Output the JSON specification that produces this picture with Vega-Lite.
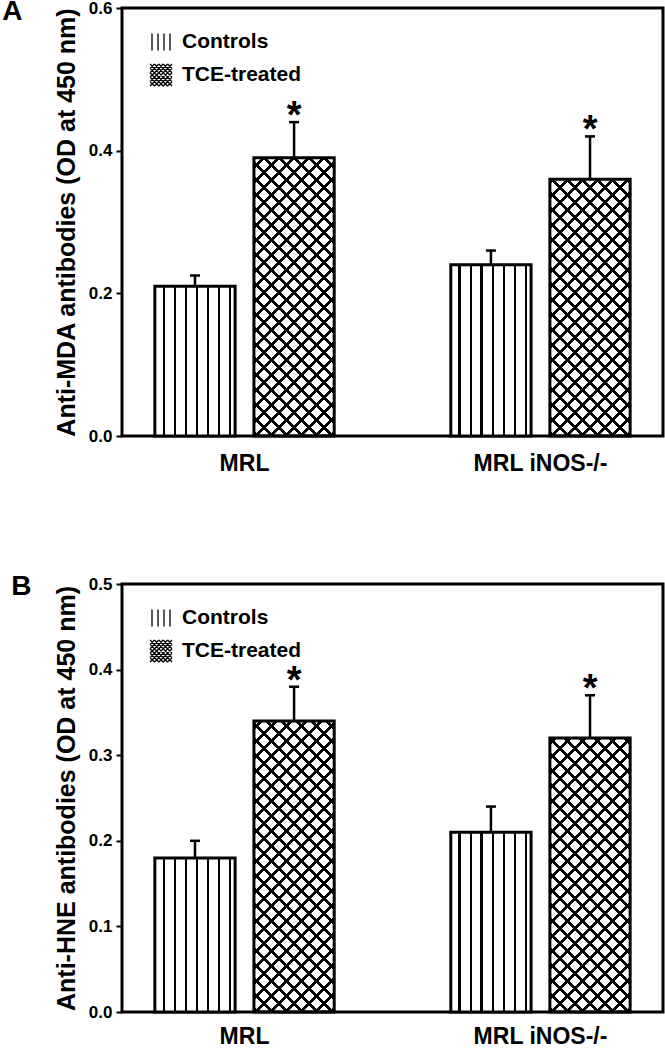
{
  "$schema": "https://vega.github.io/schema/vega-lite/v6.json",
  "background": "white",
  "padding": {"left": 0, "top": -4, "right": 0, "bottom": 0},
  "datasets": {
    "mda": [
      {"genotype": "MRL", "group": "Controls", "mean": 0.21, "upper": 0.225},
      {"genotype": "MRL", "group": "TCE-treated", "mean": 0.39, "upper": 0.44},
      {"genotype": "MRL iNOS-/-", "group": "Controls", "mean": 0.24, "upper": 0.26},
      {"genotype": "MRL iNOS-/-", "group": "TCE-treated", "mean": 0.36, "upper": 0.42}
    ],
    "hne": [
      {"genotype": "MRL", "group": "Controls", "mean": 0.18, "upper": 0.2},
      {"genotype": "MRL", "group": "TCE-treated", "mean": 0.34, "upper": 0.38},
      {"genotype": "MRL iNOS-/-", "group": "Controls", "mean": 0.21, "upper": 0.24},
      {"genotype": "MRL iNOS-/-", "group": "TCE-treated", "mean": 0.32, "upper": 0.37}
    ]
  },
  "spacing": 94,
  "resolve": {
    "scale": {"x": "independent", "y": "independent", "xOffset": "independent", "shape": "independent"},
    "legend": {"shape": "independent"}
  },
  "vconcat": [
    {
      "data": {"name": "mda"},
      "width": 541,
      "height": 428,
      "title": {"text": "A", "anchor": "start", "frame": "bounds", "fontSize": 28, "fontWeight": "bold", "color": "black", "dx": -52, "dy": 31},
      "encoding": {
        "x": {"field": "genotype", "type": "nominal", "sort": ["MRL", "MRL iNOS-/-"], "scale": {"paddingInner": 0.394, "paddingOuter": 0.111},
          "axis": {"title": null, "labelAngle": 0, "ticks": false, "domain": false, "labelFontSize": 23, "labelFontWeight": "bold", "labelColor": "black", "labelPadding": 16}},
        "xOffset": {"field": "group", "type": "nominal", "sort": ["Controls", "TCE-treated"], "scale": {"paddingInner": 0.19, "paddingOuter": 0}},
        "y": {"field": "mean", "type": "quantitative", "scale": {"domain": [0, 0.6], "nice": false},
          "axis": {"title": "Anti-MDA antibodies (OD at 450 nm)", "values": [0, 0.2, 0.4, 0.6], "format": ".1f", "grid": false, "domain": false, "tickSize": 6, "tickWidth": 2, "tickColor": "black", "labelFontSize": 17, "labelFontWeight": "bold", "labelColor": "black", "labelPadding": 4, "titleFontSize": 25, "titleFontWeight": "bold", "titleColor": "black", "titlePadding": 9}}
      },
      "layer": [
        {"transform": [{"filter": "datum.group === 'TCE-treated'"}], "mark": {"type": "bar", "strokeWidth": 0, "fill": {"gradient": "linear", "x1": 0, "y1": 0, "x2": 0.29416, "y2": 1.17648, "stops": [
          {"offset": 0, "color": "rgba(0,0,0,0)"},
          {"offset": 0.0142, "color": "rgba(0,0,0,0)"}, {"offset": 0.0142, "color": "#000"}, {"offset": 0.0232, "color": "#000"}, {"offset": 0.0232, "color": "rgba(0,0,0,0)"},
          {"offset": 0.0516, "color": "rgba(0,0,0,0)"}, {"offset": 0.0516, "color": "#000"}, {"offset": 0.0606, "color": "#000"}, {"offset": 0.0606, "color": "rgba(0,0,0,0)"},
          {"offset": 0.0890, "color": "rgba(0,0,0,0)"}, {"offset": 0.0890, "color": "#000"}, {"offset": 0.0980, "color": "#000"}, {"offset": 0.0980, "color": "rgba(0,0,0,0)"},
          {"offset": 0.1263, "color": "rgba(0,0,0,0)"}, {"offset": 0.1263, "color": "#000"}, {"offset": 0.1353, "color": "#000"}, {"offset": 0.1353, "color": "rgba(0,0,0,0)"},
          {"offset": 0.1637, "color": "rgba(0,0,0,0)"}, {"offset": 0.1637, "color": "#000"}, {"offset": 0.1727, "color": "#000"}, {"offset": 0.1727, "color": "rgba(0,0,0,0)"},
          {"offset": 0.2011, "color": "rgba(0,0,0,0)"}, {"offset": 0.2011, "color": "#000"}, {"offset": 0.2101, "color": "#000"}, {"offset": 0.2101, "color": "rgba(0,0,0,0)"},
          {"offset": 0.2385, "color": "rgba(0,0,0,0)"}, {"offset": 0.2385, "color": "#000"}, {"offset": 0.2475, "color": "#000"}, {"offset": 0.2475, "color": "rgba(0,0,0,0)"},
          {"offset": 0.2759, "color": "rgba(0,0,0,0)"}, {"offset": 0.2759, "color": "#000"}, {"offset": 0.2849, "color": "#000"}, {"offset": 0.2849, "color": "rgba(0,0,0,0)"},
          {"offset": 0.3133, "color": "rgba(0,0,0,0)"}, {"offset": 0.3133, "color": "#000"}, {"offset": 0.3222, "color": "#000"}, {"offset": 0.3222, "color": "rgba(0,0,0,0)"},
          {"offset": 0.3506, "color": "rgba(0,0,0,0)"}, {"offset": 0.3506, "color": "#000"}, {"offset": 0.3596, "color": "#000"}, {"offset": 0.3596, "color": "rgba(0,0,0,0)"},
          {"offset": 0.3880, "color": "rgba(0,0,0,0)"}, {"offset": 0.3880, "color": "#000"}, {"offset": 0.3970, "color": "#000"}, {"offset": 0.3970, "color": "rgba(0,0,0,0)"},
          {"offset": 0.4254, "color": "rgba(0,0,0,0)"}, {"offset": 0.4254, "color": "#000"}, {"offset": 0.4344, "color": "#000"}, {"offset": 0.4344, "color": "rgba(0,0,0,0)"},
          {"offset": 0.4628, "color": "rgba(0,0,0,0)"}, {"offset": 0.4628, "color": "#000"}, {"offset": 0.4718, "color": "#000"}, {"offset": 0.4718, "color": "rgba(0,0,0,0)"},
          {"offset": 0.5002, "color": "rgba(0,0,0,0)"}, {"offset": 0.5002, "color": "#000"}, {"offset": 0.5091, "color": "#000"}, {"offset": 0.5091, "color": "rgba(0,0,0,0)"},
          {"offset": 0.5376, "color": "rgba(0,0,0,0)"}, {"offset": 0.5376, "color": "#000"}, {"offset": 0.5465, "color": "#000"}, {"offset": 0.5465, "color": "rgba(0,0,0,0)"},
          {"offset": 0.5749, "color": "rgba(0,0,0,0)"}, {"offset": 0.5749, "color": "#000"}, {"offset": 0.5839, "color": "#000"}, {"offset": 0.5839, "color": "rgba(0,0,0,0)"},
          {"offset": 0.6123, "color": "rgba(0,0,0,0)"}, {"offset": 0.6123, "color": "#000"}, {"offset": 0.6213, "color": "#000"}, {"offset": 0.6213, "color": "rgba(0,0,0,0)"},
          {"offset": 0.6497, "color": "rgba(0,0,0,0)"}, {"offset": 0.6497, "color": "#000"}, {"offset": 0.6587, "color": "#000"}, {"offset": 0.6587, "color": "rgba(0,0,0,0)"},
          {"offset": 0.6871, "color": "rgba(0,0,0,0)"}, {"offset": 0.6871, "color": "#000"}, {"offset": 0.6961, "color": "#000"}, {"offset": 0.6961, "color": "rgba(0,0,0,0)"},
          {"offset": 0.7245, "color": "rgba(0,0,0,0)"}, {"offset": 0.7245, "color": "#000"}, {"offset": 0.7335, "color": "#000"}, {"offset": 0.7335, "color": "rgba(0,0,0,0)"},
          {"offset": 0.7619, "color": "rgba(0,0,0,0)"}, {"offset": 0.7619, "color": "#000"}, {"offset": 0.7708, "color": "#000"}, {"offset": 0.7708, "color": "rgba(0,0,0,0)"},
          {"offset": 0.7992, "color": "rgba(0,0,0,0)"}, {"offset": 0.7992, "color": "#000"}, {"offset": 0.8082, "color": "#000"}, {"offset": 0.8082, "color": "rgba(0,0,0,0)"},
          {"offset": 0.8366, "color": "rgba(0,0,0,0)"}, {"offset": 0.8366, "color": "#000"}, {"offset": 0.8456, "color": "#000"}, {"offset": 0.8456, "color": "rgba(0,0,0,0)"},
          {"offset": 0.8740, "color": "rgba(0,0,0,0)"}, {"offset": 0.8740, "color": "#000"}, {"offset": 0.8830, "color": "#000"}, {"offset": 0.8830, "color": "rgba(0,0,0,0)"},
          {"offset": 0.9114, "color": "rgba(0,0,0,0)"}, {"offset": 0.9114, "color": "#000"}, {"offset": 0.9204, "color": "#000"}, {"offset": 0.9204, "color": "rgba(0,0,0,0)"},
          {"offset": 0.9488, "color": "rgba(0,0,0,0)"}, {"offset": 0.9488, "color": "#000"}, {"offset": 0.9578, "color": "#000"}, {"offset": 0.9578, "color": "rgba(0,0,0,0)"},
          {"offset": 0.9862, "color": "rgba(0,0,0,0)"}, {"offset": 0.9862, "color": "#000"}, {"offset": 0.9951, "color": "#000"}, {"offset": 0.9951, "color": "rgba(0,0,0,0)"},
          {"offset": 1, "color": "rgba(0,0,0,0)"}]}},
          "encoding": {"y": {"datum": 0, "type": "quantitative"}, "y2": {"datum": 0.45}}},
        {"transform": [{"filter": "datum.group === 'TCE-treated'"}], "mark": {"type": "bar", "strokeWidth": 0, "fill": {"gradient": "linear", "x1": 1, "y1": 0, "x2": 0.70584, "y2": 1.17648, "stops": [
          {"offset": 0, "color": "rgba(0,0,0,0)"},
          {"offset": 0.0142, "color": "rgba(0,0,0,0)"}, {"offset": 0.0142, "color": "#000"}, {"offset": 0.0232, "color": "#000"}, {"offset": 0.0232, "color": "rgba(0,0,0,0)"},
          {"offset": 0.0516, "color": "rgba(0,0,0,0)"}, {"offset": 0.0516, "color": "#000"}, {"offset": 0.0606, "color": "#000"}, {"offset": 0.0606, "color": "rgba(0,0,0,0)"},
          {"offset": 0.0890, "color": "rgba(0,0,0,0)"}, {"offset": 0.0890, "color": "#000"}, {"offset": 0.0980, "color": "#000"}, {"offset": 0.0980, "color": "rgba(0,0,0,0)"},
          {"offset": 0.1263, "color": "rgba(0,0,0,0)"}, {"offset": 0.1263, "color": "#000"}, {"offset": 0.1353, "color": "#000"}, {"offset": 0.1353, "color": "rgba(0,0,0,0)"},
          {"offset": 0.1637, "color": "rgba(0,0,0,0)"}, {"offset": 0.1637, "color": "#000"}, {"offset": 0.1727, "color": "#000"}, {"offset": 0.1727, "color": "rgba(0,0,0,0)"},
          {"offset": 0.2011, "color": "rgba(0,0,0,0)"}, {"offset": 0.2011, "color": "#000"}, {"offset": 0.2101, "color": "#000"}, {"offset": 0.2101, "color": "rgba(0,0,0,0)"},
          {"offset": 0.2385, "color": "rgba(0,0,0,0)"}, {"offset": 0.2385, "color": "#000"}, {"offset": 0.2475, "color": "#000"}, {"offset": 0.2475, "color": "rgba(0,0,0,0)"},
          {"offset": 0.2759, "color": "rgba(0,0,0,0)"}, {"offset": 0.2759, "color": "#000"}, {"offset": 0.2849, "color": "#000"}, {"offset": 0.2849, "color": "rgba(0,0,0,0)"},
          {"offset": 0.3133, "color": "rgba(0,0,0,0)"}, {"offset": 0.3133, "color": "#000"}, {"offset": 0.3222, "color": "#000"}, {"offset": 0.3222, "color": "rgba(0,0,0,0)"},
          {"offset": 0.3506, "color": "rgba(0,0,0,0)"}, {"offset": 0.3506, "color": "#000"}, {"offset": 0.3596, "color": "#000"}, {"offset": 0.3596, "color": "rgba(0,0,0,0)"},
          {"offset": 0.3880, "color": "rgba(0,0,0,0)"}, {"offset": 0.3880, "color": "#000"}, {"offset": 0.3970, "color": "#000"}, {"offset": 0.3970, "color": "rgba(0,0,0,0)"},
          {"offset": 0.4254, "color": "rgba(0,0,0,0)"}, {"offset": 0.4254, "color": "#000"}, {"offset": 0.4344, "color": "#000"}, {"offset": 0.4344, "color": "rgba(0,0,0,0)"},
          {"offset": 0.4628, "color": "rgba(0,0,0,0)"}, {"offset": 0.4628, "color": "#000"}, {"offset": 0.4718, "color": "#000"}, {"offset": 0.4718, "color": "rgba(0,0,0,0)"},
          {"offset": 0.5002, "color": "rgba(0,0,0,0)"}, {"offset": 0.5002, "color": "#000"}, {"offset": 0.5091, "color": "#000"}, {"offset": 0.5091, "color": "rgba(0,0,0,0)"},
          {"offset": 0.5376, "color": "rgba(0,0,0,0)"}, {"offset": 0.5376, "color": "#000"}, {"offset": 0.5465, "color": "#000"}, {"offset": 0.5465, "color": "rgba(0,0,0,0)"},
          {"offset": 0.5749, "color": "rgba(0,0,0,0)"}, {"offset": 0.5749, "color": "#000"}, {"offset": 0.5839, "color": "#000"}, {"offset": 0.5839, "color": "rgba(0,0,0,0)"},
          {"offset": 0.6123, "color": "rgba(0,0,0,0)"}, {"offset": 0.6123, "color": "#000"}, {"offset": 0.6213, "color": "#000"}, {"offset": 0.6213, "color": "rgba(0,0,0,0)"},
          {"offset": 0.6497, "color": "rgba(0,0,0,0)"}, {"offset": 0.6497, "color": "#000"}, {"offset": 0.6587, "color": "#000"}, {"offset": 0.6587, "color": "rgba(0,0,0,0)"},
          {"offset": 0.6871, "color": "rgba(0,0,0,0)"}, {"offset": 0.6871, "color": "#000"}, {"offset": 0.6961, "color": "#000"}, {"offset": 0.6961, "color": "rgba(0,0,0,0)"},
          {"offset": 0.7245, "color": "rgba(0,0,0,0)"}, {"offset": 0.7245, "color": "#000"}, {"offset": 0.7335, "color": "#000"}, {"offset": 0.7335, "color": "rgba(0,0,0,0)"},
          {"offset": 0.7619, "color": "rgba(0,0,0,0)"}, {"offset": 0.7619, "color": "#000"}, {"offset": 0.7708, "color": "#000"}, {"offset": 0.7708, "color": "rgba(0,0,0,0)"},
          {"offset": 0.7992, "color": "rgba(0,0,0,0)"}, {"offset": 0.7992, "color": "#000"}, {"offset": 0.8082, "color": "#000"}, {"offset": 0.8082, "color": "rgba(0,0,0,0)"},
          {"offset": 0.8366, "color": "rgba(0,0,0,0)"}, {"offset": 0.8366, "color": "#000"}, {"offset": 0.8456, "color": "#000"}, {"offset": 0.8456, "color": "rgba(0,0,0,0)"},
          {"offset": 0.8740, "color": "rgba(0,0,0,0)"}, {"offset": 0.8740, "color": "#000"}, {"offset": 0.8830, "color": "#000"}, {"offset": 0.8830, "color": "rgba(0,0,0,0)"},
          {"offset": 0.9114, "color": "rgba(0,0,0,0)"}, {"offset": 0.9114, "color": "#000"}, {"offset": 0.9204, "color": "#000"}, {"offset": 0.9204, "color": "rgba(0,0,0,0)"},
          {"offset": 0.9488, "color": "rgba(0,0,0,0)"}, {"offset": 0.9488, "color": "#000"}, {"offset": 0.9578, "color": "#000"}, {"offset": 0.9578, "color": "rgba(0,0,0,0)"},
          {"offset": 0.9862, "color": "rgba(0,0,0,0)"}, {"offset": 0.9862, "color": "#000"}, {"offset": 0.9951, "color": "#000"}, {"offset": 0.9951, "color": "rgba(0,0,0,0)"},
          {"offset": 1, "color": "rgba(0,0,0,0)"}]}},
          "encoding": {"y": {"datum": 0, "type": "quantitative"}, "y2": {"datum": 0.45}}},
        {"transform": [{"filter": "datum.group === 'TCE-treated'"}], "mark": {"type": "bar", "fill": "white", "stroke": "white", "strokeWidth": 2}, "encoding": {"y2": {"datum": 0.45}}},
        {"transform": [{"filter": "datum.group === 'Controls'"}], "mark": {"type": "bar", "strokeWidth": 0, "fill": {"gradient": "linear", "x1": 0, "y1": 0, "x2": 1, "y2": 0, "stops": [
          {"offset": 0, "color": "white"},
          {"offset": 0.0959, "color": "white"}, {"offset": 0.0959, "color": "#000"}, {"offset": 0.1283, "color": "#000"}, {"offset": 0.1283, "color": "white"},
          {"offset": 0.2330, "color": "white"}, {"offset": 0.2330, "color": "#000"}, {"offset": 0.2654, "color": "#000"}, {"offset": 0.2654, "color": "white"},
          {"offset": 0.3700, "color": "white"}, {"offset": 0.3700, "color": "#000"}, {"offset": 0.4024, "color": "#000"}, {"offset": 0.4024, "color": "white"},
          {"offset": 0.5071, "color": "white"}, {"offset": 0.5071, "color": "#000"}, {"offset": 0.5395, "color": "#000"}, {"offset": 0.5395, "color": "white"},
          {"offset": 0.6442, "color": "white"}, {"offset": 0.6442, "color": "#000"}, {"offset": 0.6765, "color": "#000"}, {"offset": 0.6765, "color": "white"},
          {"offset": 0.7812, "color": "white"}, {"offset": 0.7812, "color": "#000"}, {"offset": 0.8136, "color": "#000"}, {"offset": 0.8136, "color": "white"},
          {"offset": 0.9183, "color": "white"}, {"offset": 0.9183, "color": "#000"}, {"offset": 0.9507, "color": "#000"}, {"offset": 0.9507, "color": "white"},
          {"offset": 1, "color": "white"}]}}},
        {"mark": {"type": "bar", "stroke": "black", "strokeWidth": 3, "fill": "transparent"}},
        {"mark": {"type": "point", "filled": false, "opacity": 0, "color": "black", "strokeWidth": 1.3},
          "encoding": {"shape": {"field": "group", "type": "nominal", "sort": ["Controls", "TCE-treated"],
            "scale": {"range": ["M-0.9,-0.85L-0.9,0.85M-0.3,-0.85L-0.3,0.85M0.3,-0.85L0.3,0.85M0.9,-0.85L0.9,0.85", "M-1.1,-0.66L-0.66,-1.1M-1.1,-0.22L-0.22,-1.1M-1.1,0.22L0.22,-1.1M-1.1,0.66L0.66,-1.1M1.1,-1.1L-1.1,1.1M1.1,-0.66L-0.66,1.1M1.1,-0.22L-0.22,1.1M1.1,0.22L0.22,1.1M1.1,0.66L0.66,1.1M-1.1,0.66L-0.66,1.1M-1.1,0.22L-0.22,1.1M-1.1,-0.22L0.22,1.1M-1.1,-0.66L0.66,1.1M1.1,1.1L-1.1,-1.1M1.1,0.66L-0.66,-1.1M1.1,0.22L-0.22,-1.1M1.1,-0.22L0.22,-1.1M1.1,-0.66L0.66,-1.1"]},
            "legend": {"title": null, "orient": "none", "legendX": 28, "legendY": 23, "direction": "vertical", "symbolSize": 400, "symbolOpacity": 1, "symbolStrokeColor": "black", "symbolStrokeWidth": 1.3, "symbolFillColor": "transparent", "labelFontSize": 21, "labelFontWeight": "bold", "labelColor": "black", "labelOffset": 10, "rowPadding": 7, "padding": 0}}}},
        {"mark": {"type": "rule", "strokeWidth": 2.5, "color": "black"}, "encoding": {"y2": {"field": "upper"}}},
        {"mark": {"type": "tick", "orient": "horizontal", "size": 10, "thickness": 2.5, "color": "black", "opacity": 1}, "encoding": {"y": {"field": "upper", "type": "quantitative", "title": "Anti-MDA antibodies (OD at 450 nm)"}}},
        {"transform": [{"filter": "datum.group === 'TCE-treated'"}], "mark": {"type": "text", "text": "*", "fontSize": 38, "fontWeight": "bold", "dy": 6, "baseline": "alphabetic", "color": "black"}, "encoding": {"y": {"field": "upper", "type": "quantitative", "title": "Anti-MDA antibodies (OD at 450 nm)"}}}
      ]
    },
    {
      "data": {"name": "hne"},
      "width": 541,
      "height": 428,
      "title": {"text": "B", "anchor": "start", "frame": "bounds", "fontSize": 28, "fontWeight": "bold", "color": "black", "dx": -43, "dy": 30},
      "encoding": {
        "x": {"field": "genotype", "type": "nominal", "sort": ["MRL", "MRL iNOS-/-"], "scale": {"paddingInner": 0.394, "paddingOuter": 0.111},
          "axis": {"title": null, "labelAngle": 0, "ticks": false, "domain": false, "labelFontSize": 23, "labelFontWeight": "bold", "labelColor": "black", "labelPadding": 13}},
        "xOffset": {"field": "group", "type": "nominal", "sort": ["Controls", "TCE-treated"], "scale": {"paddingInner": 0.19, "paddingOuter": 0}},
        "y": {"field": "mean", "type": "quantitative", "scale": {"domain": [0, 0.5], "nice": false},
          "axis": {"title": "Anti-HNE antibodies (OD at 450 nm)", "values": [0, 0.1, 0.2, 0.3, 0.4, 0.5], "format": ".1f", "grid": false, "domain": false, "tickSize": 6, "tickWidth": 2, "tickColor": "black", "labelFontSize": 17, "labelFontWeight": "bold", "labelColor": "black", "labelPadding": 4, "titleFontSize": 25, "titleFontWeight": "bold", "titleColor": "black", "titlePadding": 9}}
      },
      "layer": [
        {"transform": [{"filter": "datum.group === 'TCE-treated'"}], "mark": {"type": "bar", "strokeWidth": 0, "fill": {"gradient": "linear", "x1": 0, "y1": 0, "x2": 0.29416, "y2": 1.17648, "stops": [
          {"offset": 0, "color": "rgba(0,0,0,0)"},
          {"offset": 0.0142, "color": "rgba(0,0,0,0)"}, {"offset": 0.0142, "color": "#000"}, {"offset": 0.0232, "color": "#000"}, {"offset": 0.0232, "color": "rgba(0,0,0,0)"},
          {"offset": 0.0516, "color": "rgba(0,0,0,0)"}, {"offset": 0.0516, "color": "#000"}, {"offset": 0.0606, "color": "#000"}, {"offset": 0.0606, "color": "rgba(0,0,0,0)"},
          {"offset": 0.0890, "color": "rgba(0,0,0,0)"}, {"offset": 0.0890, "color": "#000"}, {"offset": 0.0980, "color": "#000"}, {"offset": 0.0980, "color": "rgba(0,0,0,0)"},
          {"offset": 0.1263, "color": "rgba(0,0,0,0)"}, {"offset": 0.1263, "color": "#000"}, {"offset": 0.1353, "color": "#000"}, {"offset": 0.1353, "color": "rgba(0,0,0,0)"},
          {"offset": 0.1637, "color": "rgba(0,0,0,0)"}, {"offset": 0.1637, "color": "#000"}, {"offset": 0.1727, "color": "#000"}, {"offset": 0.1727, "color": "rgba(0,0,0,0)"},
          {"offset": 0.2011, "color": "rgba(0,0,0,0)"}, {"offset": 0.2011, "color": "#000"}, {"offset": 0.2101, "color": "#000"}, {"offset": 0.2101, "color": "rgba(0,0,0,0)"},
          {"offset": 0.2385, "color": "rgba(0,0,0,0)"}, {"offset": 0.2385, "color": "#000"}, {"offset": 0.2475, "color": "#000"}, {"offset": 0.2475, "color": "rgba(0,0,0,0)"},
          {"offset": 0.2759, "color": "rgba(0,0,0,0)"}, {"offset": 0.2759, "color": "#000"}, {"offset": 0.2849, "color": "#000"}, {"offset": 0.2849, "color": "rgba(0,0,0,0)"},
          {"offset": 0.3133, "color": "rgba(0,0,0,0)"}, {"offset": 0.3133, "color": "#000"}, {"offset": 0.3222, "color": "#000"}, {"offset": 0.3222, "color": "rgba(0,0,0,0)"},
          {"offset": 0.3506, "color": "rgba(0,0,0,0)"}, {"offset": 0.3506, "color": "#000"}, {"offset": 0.3596, "color": "#000"}, {"offset": 0.3596, "color": "rgba(0,0,0,0)"},
          {"offset": 0.3880, "color": "rgba(0,0,0,0)"}, {"offset": 0.3880, "color": "#000"}, {"offset": 0.3970, "color": "#000"}, {"offset": 0.3970, "color": "rgba(0,0,0,0)"},
          {"offset": 0.4254, "color": "rgba(0,0,0,0)"}, {"offset": 0.4254, "color": "#000"}, {"offset": 0.4344, "color": "#000"}, {"offset": 0.4344, "color": "rgba(0,0,0,0)"},
          {"offset": 0.4628, "color": "rgba(0,0,0,0)"}, {"offset": 0.4628, "color": "#000"}, {"offset": 0.4718, "color": "#000"}, {"offset": 0.4718, "color": "rgba(0,0,0,0)"},
          {"offset": 0.5002, "color": "rgba(0,0,0,0)"}, {"offset": 0.5002, "color": "#000"}, {"offset": 0.5091, "color": "#000"}, {"offset": 0.5091, "color": "rgba(0,0,0,0)"},
          {"offset": 0.5376, "color": "rgba(0,0,0,0)"}, {"offset": 0.5376, "color": "#000"}, {"offset": 0.5465, "color": "#000"}, {"offset": 0.5465, "color": "rgba(0,0,0,0)"},
          {"offset": 0.5749, "color": "rgba(0,0,0,0)"}, {"offset": 0.5749, "color": "#000"}, {"offset": 0.5839, "color": "#000"}, {"offset": 0.5839, "color": "rgba(0,0,0,0)"},
          {"offset": 0.6123, "color": "rgba(0,0,0,0)"}, {"offset": 0.6123, "color": "#000"}, {"offset": 0.6213, "color": "#000"}, {"offset": 0.6213, "color": "rgba(0,0,0,0)"},
          {"offset": 0.6497, "color": "rgba(0,0,0,0)"}, {"offset": 0.6497, "color": "#000"}, {"offset": 0.6587, "color": "#000"}, {"offset": 0.6587, "color": "rgba(0,0,0,0)"},
          {"offset": 0.6871, "color": "rgba(0,0,0,0)"}, {"offset": 0.6871, "color": "#000"}, {"offset": 0.6961, "color": "#000"}, {"offset": 0.6961, "color": "rgba(0,0,0,0)"},
          {"offset": 0.7245, "color": "rgba(0,0,0,0)"}, {"offset": 0.7245, "color": "#000"}, {"offset": 0.7335, "color": "#000"}, {"offset": 0.7335, "color": "rgba(0,0,0,0)"},
          {"offset": 0.7619, "color": "rgba(0,0,0,0)"}, {"offset": 0.7619, "color": "#000"}, {"offset": 0.7708, "color": "#000"}, {"offset": 0.7708, "color": "rgba(0,0,0,0)"},
          {"offset": 0.7992, "color": "rgba(0,0,0,0)"}, {"offset": 0.7992, "color": "#000"}, {"offset": 0.8082, "color": "#000"}, {"offset": 0.8082, "color": "rgba(0,0,0,0)"},
          {"offset": 0.8366, "color": "rgba(0,0,0,0)"}, {"offset": 0.8366, "color": "#000"}, {"offset": 0.8456, "color": "#000"}, {"offset": 0.8456, "color": "rgba(0,0,0,0)"},
          {"offset": 0.8740, "color": "rgba(0,0,0,0)"}, {"offset": 0.8740, "color": "#000"}, {"offset": 0.8830, "color": "#000"}, {"offset": 0.8830, "color": "rgba(0,0,0,0)"},
          {"offset": 0.9114, "color": "rgba(0,0,0,0)"}, {"offset": 0.9114, "color": "#000"}, {"offset": 0.9204, "color": "#000"}, {"offset": 0.9204, "color": "rgba(0,0,0,0)"},
          {"offset": 0.9488, "color": "rgba(0,0,0,0)"}, {"offset": 0.9488, "color": "#000"}, {"offset": 0.9578, "color": "#000"}, {"offset": 0.9578, "color": "rgba(0,0,0,0)"},
          {"offset": 0.9862, "color": "rgba(0,0,0,0)"}, {"offset": 0.9862, "color": "#000"}, {"offset": 0.9951, "color": "#000"}, {"offset": 0.9951, "color": "rgba(0,0,0,0)"},
          {"offset": 1, "color": "rgba(0,0,0,0)"}]}},
          "encoding": {"y": {"datum": 0, "type": "quantitative"}, "y2": {"datum": 0.375}}},
        {"transform": [{"filter": "datum.group === 'TCE-treated'"}], "mark": {"type": "bar", "strokeWidth": 0, "fill": {"gradient": "linear", "x1": 1, "y1": 0, "x2": 0.70584, "y2": 1.17648, "stops": [
          {"offset": 0, "color": "rgba(0,0,0,0)"},
          {"offset": 0.0142, "color": "rgba(0,0,0,0)"}, {"offset": 0.0142, "color": "#000"}, {"offset": 0.0232, "color": "#000"}, {"offset": 0.0232, "color": "rgba(0,0,0,0)"},
          {"offset": 0.0516, "color": "rgba(0,0,0,0)"}, {"offset": 0.0516, "color": "#000"}, {"offset": 0.0606, "color": "#000"}, {"offset": 0.0606, "color": "rgba(0,0,0,0)"},
          {"offset": 0.0890, "color": "rgba(0,0,0,0)"}, {"offset": 0.0890, "color": "#000"}, {"offset": 0.0980, "color": "#000"}, {"offset": 0.0980, "color": "rgba(0,0,0,0)"},
          {"offset": 0.1263, "color": "rgba(0,0,0,0)"}, {"offset": 0.1263, "color": "#000"}, {"offset": 0.1353, "color": "#000"}, {"offset": 0.1353, "color": "rgba(0,0,0,0)"},
          {"offset": 0.1637, "color": "rgba(0,0,0,0)"}, {"offset": 0.1637, "color": "#000"}, {"offset": 0.1727, "color": "#000"}, {"offset": 0.1727, "color": "rgba(0,0,0,0)"},
          {"offset": 0.2011, "color": "rgba(0,0,0,0)"}, {"offset": 0.2011, "color": "#000"}, {"offset": 0.2101, "color": "#000"}, {"offset": 0.2101, "color": "rgba(0,0,0,0)"},
          {"offset": 0.2385, "color": "rgba(0,0,0,0)"}, {"offset": 0.2385, "color": "#000"}, {"offset": 0.2475, "color": "#000"}, {"offset": 0.2475, "color": "rgba(0,0,0,0)"},
          {"offset": 0.2759, "color": "rgba(0,0,0,0)"}, {"offset": 0.2759, "color": "#000"}, {"offset": 0.2849, "color": "#000"}, {"offset": 0.2849, "color": "rgba(0,0,0,0)"},
          {"offset": 0.3133, "color": "rgba(0,0,0,0)"}, {"offset": 0.3133, "color": "#000"}, {"offset": 0.3222, "color": "#000"}, {"offset": 0.3222, "color": "rgba(0,0,0,0)"},
          {"offset": 0.3506, "color": "rgba(0,0,0,0)"}, {"offset": 0.3506, "color": "#000"}, {"offset": 0.3596, "color": "#000"}, {"offset": 0.3596, "color": "rgba(0,0,0,0)"},
          {"offset": 0.3880, "color": "rgba(0,0,0,0)"}, {"offset": 0.3880, "color": "#000"}, {"offset": 0.3970, "color": "#000"}, {"offset": 0.3970, "color": "rgba(0,0,0,0)"},
          {"offset": 0.4254, "color": "rgba(0,0,0,0)"}, {"offset": 0.4254, "color": "#000"}, {"offset": 0.4344, "color": "#000"}, {"offset": 0.4344, "color": "rgba(0,0,0,0)"},
          {"offset": 0.4628, "color": "rgba(0,0,0,0)"}, {"offset": 0.4628, "color": "#000"}, {"offset": 0.4718, "color": "#000"}, {"offset": 0.4718, "color": "rgba(0,0,0,0)"},
          {"offset": 0.5002, "color": "rgba(0,0,0,0)"}, {"offset": 0.5002, "color": "#000"}, {"offset": 0.5091, "color": "#000"}, {"offset": 0.5091, "color": "rgba(0,0,0,0)"},
          {"offset": 0.5376, "color": "rgba(0,0,0,0)"}, {"offset": 0.5376, "color": "#000"}, {"offset": 0.5465, "color": "#000"}, {"offset": 0.5465, "color": "rgba(0,0,0,0)"},
          {"offset": 0.5749, "color": "rgba(0,0,0,0)"}, {"offset": 0.5749, "color": "#000"}, {"offset": 0.5839, "color": "#000"}, {"offset": 0.5839, "color": "rgba(0,0,0,0)"},
          {"offset": 0.6123, "color": "rgba(0,0,0,0)"}, {"offset": 0.6123, "color": "#000"}, {"offset": 0.6213, "color": "#000"}, {"offset": 0.6213, "color": "rgba(0,0,0,0)"},
          {"offset": 0.6497, "color": "rgba(0,0,0,0)"}, {"offset": 0.6497, "color": "#000"}, {"offset": 0.6587, "color": "#000"}, {"offset": 0.6587, "color": "rgba(0,0,0,0)"},
          {"offset": 0.6871, "color": "rgba(0,0,0,0)"}, {"offset": 0.6871, "color": "#000"}, {"offset": 0.6961, "color": "#000"}, {"offset": 0.6961, "color": "rgba(0,0,0,0)"},
          {"offset": 0.7245, "color": "rgba(0,0,0,0)"}, {"offset": 0.7245, "color": "#000"}, {"offset": 0.7335, "color": "#000"}, {"offset": 0.7335, "color": "rgba(0,0,0,0)"},
          {"offset": 0.7619, "color": "rgba(0,0,0,0)"}, {"offset": 0.7619, "color": "#000"}, {"offset": 0.7708, "color": "#000"}, {"offset": 0.7708, "color": "rgba(0,0,0,0)"},
          {"offset": 0.7992, "color": "rgba(0,0,0,0)"}, {"offset": 0.7992, "color": "#000"}, {"offset": 0.8082, "color": "#000"}, {"offset": 0.8082, "color": "rgba(0,0,0,0)"},
          {"offset": 0.8366, "color": "rgba(0,0,0,0)"}, {"offset": 0.8366, "color": "#000"}, {"offset": 0.8456, "color": "#000"}, {"offset": 0.8456, "color": "rgba(0,0,0,0)"},
          {"offset": 0.8740, "color": "rgba(0,0,0,0)"}, {"offset": 0.8740, "color": "#000"}, {"offset": 0.8830, "color": "#000"}, {"offset": 0.8830, "color": "rgba(0,0,0,0)"},
          {"offset": 0.9114, "color": "rgba(0,0,0,0)"}, {"offset": 0.9114, "color": "#000"}, {"offset": 0.9204, "color": "#000"}, {"offset": 0.9204, "color": "rgba(0,0,0,0)"},
          {"offset": 0.9488, "color": "rgba(0,0,0,0)"}, {"offset": 0.9488, "color": "#000"}, {"offset": 0.9578, "color": "#000"}, {"offset": 0.9578, "color": "rgba(0,0,0,0)"},
          {"offset": 0.9862, "color": "rgba(0,0,0,0)"}, {"offset": 0.9862, "color": "#000"}, {"offset": 0.9951, "color": "#000"}, {"offset": 0.9951, "color": "rgba(0,0,0,0)"},
          {"offset": 1, "color": "rgba(0,0,0,0)"}]}},
          "encoding": {"y": {"datum": 0, "type": "quantitative"}, "y2": {"datum": 0.375}}},
        {"transform": [{"filter": "datum.group === 'TCE-treated'"}], "mark": {"type": "bar", "fill": "white", "stroke": "white", "strokeWidth": 2}, "encoding": {"y2": {"datum": 0.375}}},
        {"transform": [{"filter": "datum.group === 'Controls'"}], "mark": {"type": "bar", "strokeWidth": 0, "fill": {"gradient": "linear", "x1": 0, "y1": 0, "x2": 1, "y2": 0, "stops": [
          {"offset": 0, "color": "white"},
          {"offset": 0.0959, "color": "white"}, {"offset": 0.0959, "color": "#000"}, {"offset": 0.1283, "color": "#000"}, {"offset": 0.1283, "color": "white"},
          {"offset": 0.2330, "color": "white"}, {"offset": 0.2330, "color": "#000"}, {"offset": 0.2654, "color": "#000"}, {"offset": 0.2654, "color": "white"},
          {"offset": 0.3700, "color": "white"}, {"offset": 0.3700, "color": "#000"}, {"offset": 0.4024, "color": "#000"}, {"offset": 0.4024, "color": "white"},
          {"offset": 0.5071, "color": "white"}, {"offset": 0.5071, "color": "#000"}, {"offset": 0.5395, "color": "#000"}, {"offset": 0.5395, "color": "white"},
          {"offset": 0.6442, "color": "white"}, {"offset": 0.6442, "color": "#000"}, {"offset": 0.6765, "color": "#000"}, {"offset": 0.6765, "color": "white"},
          {"offset": 0.7812, "color": "white"}, {"offset": 0.7812, "color": "#000"}, {"offset": 0.8136, "color": "#000"}, {"offset": 0.8136, "color": "white"},
          {"offset": 0.9183, "color": "white"}, {"offset": 0.9183, "color": "#000"}, {"offset": 0.9507, "color": "#000"}, {"offset": 0.9507, "color": "white"},
          {"offset": 1, "color": "white"}]}}},
        {"mark": {"type": "bar", "stroke": "black", "strokeWidth": 3, "fill": "transparent"}},
        {"mark": {"type": "point", "filled": false, "opacity": 0, "color": "black", "strokeWidth": 1.3},
          "encoding": {"shape": {"field": "group", "type": "nominal", "sort": ["Controls", "TCE-treated"],
            "scale": {"range": ["M-0.9,-0.85L-0.9,0.85M-0.3,-0.85L-0.3,0.85M0.3,-0.85L0.3,0.85M0.9,-0.85L0.9,0.85", "M-1.1,-0.66L-0.66,-1.1M-1.1,-0.22L-0.22,-1.1M-1.1,0.22L0.22,-1.1M-1.1,0.66L0.66,-1.1M1.1,-1.1L-1.1,1.1M1.1,-0.66L-0.66,1.1M1.1,-0.22L-0.22,1.1M1.1,0.22L0.22,1.1M1.1,0.66L0.66,1.1M-1.1,0.66L-0.66,1.1M-1.1,0.22L-0.22,1.1M-1.1,-0.22L0.22,1.1M-1.1,-0.66L0.66,1.1M1.1,1.1L-1.1,-1.1M1.1,0.66L-0.66,-1.1M1.1,0.22L-0.22,-1.1M1.1,-0.22L0.22,-1.1M1.1,-0.66L0.66,-1.1"]},
            "legend": {"title": null, "orient": "none", "legendX": 28, "legendY": 23, "direction": "vertical", "symbolSize": 400, "symbolOpacity": 1, "symbolStrokeColor": "black", "symbolStrokeWidth": 1.3, "symbolFillColor": "transparent", "labelFontSize": 21, "labelFontWeight": "bold", "labelColor": "black", "labelOffset": 10, "rowPadding": 7, "padding": 0}}}},
        {"mark": {"type": "rule", "strokeWidth": 2.5, "color": "black"}, "encoding": {"y2": {"field": "upper"}}},
        {"mark": {"type": "tick", "orient": "horizontal", "size": 10, "thickness": 2.5, "color": "black", "opacity": 1}, "encoding": {"y": {"field": "upper", "type": "quantitative", "title": "Anti-HNE antibodies (OD at 450 nm)"}}},
        {"transform": [{"filter": "datum.group === 'TCE-treated'"}], "mark": {"type": "text", "text": "*", "fontSize": 38, "fontWeight": "bold", "dy": 6, "baseline": "alphabetic", "color": "black"}, "encoding": {"y": {"field": "upper", "type": "quantitative", "title": "Anti-HNE antibodies (OD at 450 nm)"}}}
      ]
    }
  ],
  "config": {
    "font": "Liberation Sans",
    "view": {"stroke": "black", "strokeWidth": 3}
  }
}
